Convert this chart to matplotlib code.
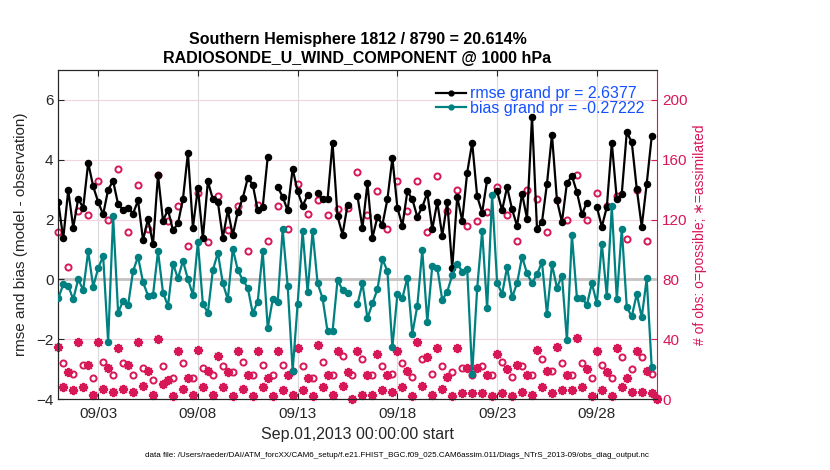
import numpy as np
import pandas as pd
import matplotlib
matplotlib.use('Agg')
import matplotlib.pyplot as plt

nan = np.nan

rmse = [2.59, 1.37, 2.98, 1.73, 2.70, 2.39, 3.90, 3.11, 2.59, 2.17,
        3.00, 3.29, 2.51, 2.33, 2.40, 2.20, 2.64, 1.31, 2.03, 1.17,
        3.50, 1.96, 2.33, 1.64, 1.87, 2.68, 4.23, 1.73, 3.06, 1.37,
        3.28, 2.68, 2.59, 1.39, 2.31, 1.48, 2.26, 2.72, 3.39, 3.17,
        2.31, 2.42, 4.09, nan, 3.09, 2.76, 2.31, 3.70, 2.94, 2.46,
        2.81, nan, 2.90, 2.68, 2.68, 4.57, 2.11, 1.50, 2.48, nan,
        2.78, 1.72, 3.22, 1.39, 2.09, 1.83, 2.68, 4.06, 2.40, 1.79,
        2.94, 2.68, 2.09, 2.42, 2.89, 1.68, 2.59, 1.46, 2.59, 0.37,
        2.76, 1.96, 3.57, 4.57, 2.78, 2.23, 3.33, nan, 2.94, 2.31,
        3.09, 2.34, 1.79, 2.87, 2.03, 5.44, 1.68, 1.92, 3.20, 4.84,
        2.64, 1.92, 3.22, 3.46, 2.92, 2.17, 2.57, nan, 2.42, 1.76,
        2.42, 4.57, 2.68, 2.87, 4.92, 4.59, 3.03, 1.76, 3.20, 4.78,
        nan]

bias = [-0.63, -0.17, -0.21, -0.67, 0.01, -0.36, 0.94, -0.24, 0.37, 0.78,
        -2.10, 2.11, -1.11, -0.72, -0.86, 0.28, 0.76, -0.10, -0.54, -0.52,
        0.94, -0.44, -0.89, 0.53, 0.03, 0.62, 0.01, -0.52, 1.26, -0.83,
        -1.11, 0.31, 0.89, -0.13, -0.67, 1.03, 0.31, -0.02, -0.28, -1.13,
        -0.74, 0.94, -1.63, -0.67, -0.77, 1.67, -0.21, -3.06, -0.82, 1.61,
        -0.43, 1.61, -0.13, -0.63, -1.74, -1.74, -0.02, -0.36, -0.47, nan,
        -0.83, -0.13, -1.30, -0.80, -0.33, 0.68, 0.28, -2.27, -0.50, -0.63,
        0.06, -1.82, -0.88, 0.98, -1.43, 0.46, 0.39, -0.69, -0.41, 0.14,
        0.53, 0.26, 0.34, -3.17, -0.30, 1.61, -0.97, 2.81, -0.11, -0.49,
        0.41, -0.60, -0.13, 0.76, 0.20, -0.13, 0.18, 0.57, -1.16, 0.50,
        -0.28, 0.12, -2.04, 1.48, -0.61, -0.61, -0.86, -0.13, -0.80, 1.20,
        -0.56, 2.44, -0.67, 1.70, -0.93, -1.24, -0.49, -1.27, 0.03, -2.94,
        nan]

n_possible = [112, 24, 88, 17, 126, 23, 123, 14, 146, 25,
              120, 16, 154, 24, 112, 16, 143, 21, 114, 13,
              150, 22, 119, 14, 129, 24, 102, 14, 138, 21,
              105, 16, 136, 22, 113, 18, 129, 25, 99, 16,
              130, 23, 106, 16, 129, 23, 114, 19, 144, 22,
              124, 14, 133, 25, 123, 16, 127, 29, 128, 16,
              152, 27, 123, 16, 139, 22, 114, 17, 146, 24,
              126, 15, 146, 27, 112, 17, 149, 22, 126, 18,
              140, 21, 116, 16, 119, 22, 125, 16, 142, 25,
              123, 15, 106, 22, 140, 16, 134, 27, 112, 19,
              133, 24, 120, 16, 150, 24, 120, 14, 138, 23,
              129, 14, 136, 28, 107, 20, 140, 28, 106, 17,
              1]

n_assim = [35, 8, 18, 6, 38, 8, 23, 3, 38, 7,
           21, 5, 34, 7, 23, 5, 38, 9, 19, 3,
           40, 10, 13, 2, 32, 7, 14, 3, 33, 8,
           19, 3, 29, 8, 18, 2, 32, 7, 16, 2,
           32, 8, 14, 2, 32, 6, 16, 3, 34, 6,
           14, 2, 36, 8, 16, 3, 32, 9, 18, 0,
           32, 3, 16, 3, 30, 6, 16, 5, 32, 8,
           19, 2, 38, 9, 28, 3, 34, 7, 15, 2,
           34, 4, 21, 4, 21, 4, 16, 2, 30, 4,
           20, 2, 23, 5, 16, 3, 33, 8, 19, 4,
           35, 6, 16, 6, 41, 8, 20, 2, 32, 6,
           18, 2, 34, 8, 14, 5, 32, 5, 19, 4,
           0]

tick_dates = ['2013-09-03', '2013-09-08', '2013-09-13',
              '2013-09-18', '2013-09-23', '2013-09-28']
tick_labels = ['09/03', '09/08', '09/13', '09/18', '09/23', '09/28']
rmse_label = 'rmse grand pr = 2.6377'
bias_label = 'bias grand pr = -0.27222'

times = pd.date_range('2013-09-01 00:00', periods=len(rmse), freq='6h')
tdates = pd.to_datetime(tick_dates)

plt.rcParams['font.family'] = ['Liberation Sans', 'DejaVu Sans']
crimson = '#d81757'
teal = '#008080'
axcol = '#262626'

fig = plt.figure(figsize=(8.3, 4.7), dpi=100)
ax = fig.add_axes([0.0702, 0.151, 0.7210, 0.700])
ax2 = ax.twinx()
ax.set_zorder(ax2.get_zorder() + 1)
ax.patch.set_visible(False)

# right axis: observation counts
ax2.set_ylim(0, 220)
ax2.set_yticks(np.arange(0, 201, 40))
ax2.yaxis.grid(True, color='#f3d3de', lw=0.8, zorder=0)
for d in tdates:
    ax2.axvline(d, color='#dadada', lw=0.8, zorder=0)
ax2.plot(times, n_possible, ls='none', marker='o', mfc='none', mec=crimson,
         ms=4.4, mew=1.4, clip_on=False, zorder=3)
ax2.plot(times, n_assim, ls='none', marker=(8, 2, 0), mec=crimson, color=crimson,
         ms=6.6, mew=1.45, clip_on=False, zorder=3)
ax2.tick_params(axis='y', colors=crimson, direction='in', length=4, labelsize=11, pad=4)
ax2.spines['right'].set_color(crimson)
ax2.set_ylabel('# of obs: o=possible; \u2217=assimilated', color=crimson, fontsize=10,
               labelpad=4)

# left axis: rmse and bias
ax.axhline(0, color='#c8c2c2', lw=2.0, zorder=1)
ax.plot(times, rmse, color='k', lw=1.6, marker='o', ms=4.4, label=rmse_label, zorder=4)
ax.plot(times, bias, color=teal, lw=1.6, marker='o', ms=4.4, mec=teal, label=bias_label, zorder=4)
ax.set_ylim(-4, 7)
ax.set_yticks(np.arange(-4, 7, 2))
ax.set_xlim(pd.Timestamp('2013-09-01 00:00'), pd.Timestamp('2013-10-01 00:00'))
ax.set_xticks(tdates)
ax.set_xticklabels(tick_labels)
ax.tick_params(axis='both', colors=axcol, labelcolor=axcol, direction='in', length=4,
               labelsize=11, top=True)
ax.tick_params(axis='x', pad=6)
for s in ['left', 'bottom', 'top']:
    ax.spines[s].set_color(axcol)
ax.spines['right'].set_visible(False)
ax.set_ylabel('rmse and bias (model - observation)', fontsize=11, color=axcol, labelpad=6)
ax.set_xlabel('Sep.01,2013 00:00:00 start', fontsize=11.5, color=axcol, labelpad=4)
ax.set_title('Southern Hemisphere 1812 / 8790 = 20.614%\nRADIOSONDE_U_WIND_COMPONENT @ 1000 hPa',
             fontsize=11.5, fontweight='bold', color='k', pad=5, linespacing=1.3)

leg = ax.legend(loc='upper right', bbox_to_anchor=(0.985, 0.96), frameon=False,
                fontsize=11.5, handlelength=1.9, handletextpad=0.25, labelspacing=-0.05,
                borderaxespad=0.0, borderpad=0.2)
for t in leg.get_texts():
    t.set_color('#1450ff')
for h in leg.legend_handles:
    h.set_markersize(3.5)

fig.text(0.478, 0.030,
         'data file: /Users/raeder/DAI/ATM_forcXX/CAM6_setup/f.e21.FHIST_BGC.f09_025.CAM6assim.011/Diags_NTrS_2013-09/obs_diag_output.nc',
         fontsize=5.8, ha='center', va='center', color='k')

fig.savefig('out.png', dpi=100)
